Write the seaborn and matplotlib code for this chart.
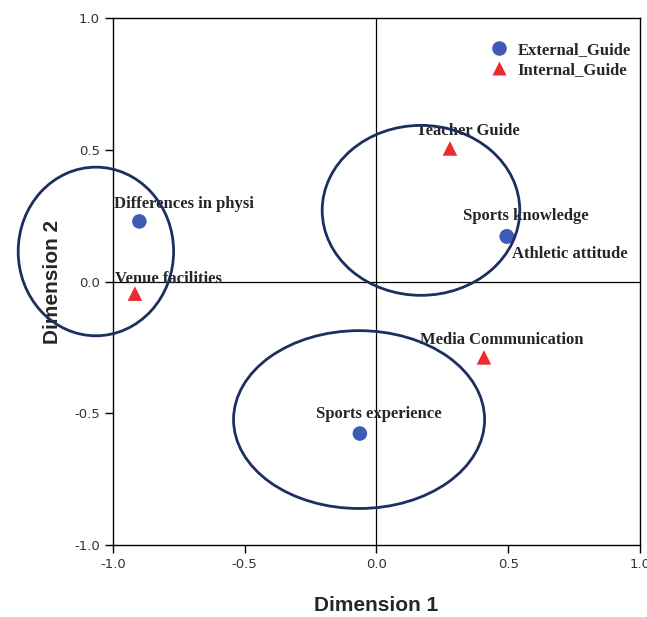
import pandas as pd
import seaborn as sns
import matplotlib.pyplot as plt
from matplotlib.patches import Ellipse

# Category points
labels = ["Differences in physi", "Sports knowledge", "Athletic attitude", "Sports experience",
          "Venue facilities", "Teacher Guide", "Media Communication"]
groups = ["External_Guide", "External_Guide", "External_Guide", "External_Guide",
          "Internal_Guide", "Internal_Guide", "Internal_Guide"]
dim1 = [-0.90, 0.495, 0.495, -0.063, -0.917, 0.279, 0.408]
dim2 = [0.228, 0.171, 0.171, -0.577, -0.046, 0.505, -0.288]

# Ellipses drawn around the clusters: centre x, centre y, width, height
ell_x = [-1.065, 0.169, -0.066]
ell_y = [0.114, 0.270, -0.524]
ell_w = [0.59, 0.75, 0.953]
ell_h = [0.64, 0.645, 0.675]

# label offsets in pixels relative to each point
offsets = [(-25, 17), (-44, 20), (5, -18), (-44, 20), (-20, 15), (-34, 17), (-64, 17)]

df = pd.DataFrame({"label": labels, "group": groups, "Dimension 1": dim1, "Dimension 2": dim2})

sns.set_style("white")
fig = plt.figure(figsize=(6.47, 6.17), dpi=100)
ax = fig.add_axes([0.1747, 0.1167, 0.8143, 0.8541])

ax.axhline(0, color="black", lw=0.9, zorder=1)
ax.axvline(0, color="black", lw=0.9, zorder=1)

sns.scatterplot(data=df, x="Dimension 1", y="Dimension 2", hue="group", style="group",
                palette={"External_Guide": "#3f5bb5", "Internal_Guide": "#ee2a2f"},
                markers={"External_Guide": "o", "Internal_Guide": "^"},
                s=110, edgecolor="none", ax=ax, zorder=3)

for lab, x, y, off in zip(labels, dim1, dim2, offsets):
    ax.annotate(lab, (x, y), xytext=off, textcoords="offset pixels", ha="left", va="center",
                fontsize=12, fontweight="bold", family="Liberation Serif", zorder=4)

for cx, cy, w, h in zip(ell_x, ell_y, ell_w, ell_h):
    ax.add_patch(Ellipse((cx, cy), w, h, fill=False, edgecolor="#1c2f5e", lw=2,
                         clip_on=False, zorder=5))

ax.set_xlim(-1, 1)
ax.set_ylim(-1, 1)
ax.set_xticks([-1.0, -0.5, 0.0, 0.5, 1.0])
ax.set_yticks([-1.0, -0.5, 0.0, 0.5, 1.0])
ax.set_xticklabels(["-1.0", "-0.5", "0.0", "0.5", "1.0"])
ax.set_yticklabels(["-1.0", "-0.5", "0.0", "0.5", "1.0"])
ax.tick_params(axis="both", direction="out", length=6, width=1, color="black",
               labelsize=9.5, labelcolor="#333333", left=True, bottom=True)
for sp in ax.spines.values():
    sp.set_color("black")
    sp.set_linewidth(1)

ax.set_xlabel("Dimension 1", fontsize=15, fontweight="bold", family="Liberation Sans", labelpad=18)
ax.set_ylabel("Dimension 2", fontsize=15, fontweight="bold", family="Liberation Sans", labelpad=9)

leg = ax.legend(loc="upper right", bbox_to_anchor=(1.005, 0.977), frameon=False,
                handletextpad=0.1, borderaxespad=0.3,
                prop={"family": "Liberation Serif", "weight": "bold", "size": 12},
                markerscale=1.0, labelspacing=0.25)

fig.savefig("out.png", dpi=100)
